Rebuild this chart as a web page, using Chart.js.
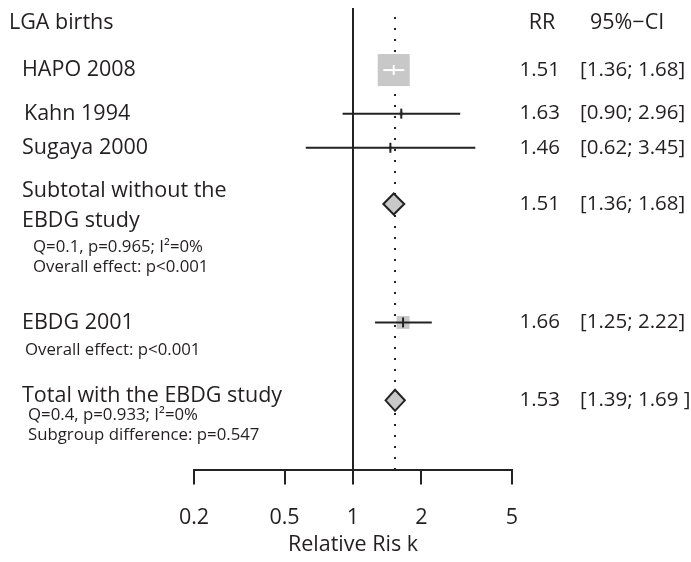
<!DOCTYPE html>
<html><head><meta charset="utf-8">
<script src="https://cdn.jsdelivr.net/npm/chart.js@4.4.1/dist/chart.umd.min.js"></script>
<style>html,body{margin:0;padding:0;background:#fff}#wrap{width:691px;height:562px;position:relative}</style>
</head><body><div id="wrap"><canvas id="c"></canvas></div>
<script>
// ---- data ----
const studyLabels = ['HAPO 2008', 'Kahn 1994', 'Sugaya 2000', 'EBDG 2001'];
const studyRR = [1.51, 1.63, 1.46, 1.66];
const studyLower = [1.36, 0.90, 0.62, 1.25];
const studyUpper = [1.68, 2.96, 3.45, 2.22];
const studyWeight = [84.0, 1.4, 0.9, 13.7];
const studyRRText = ['1.51', '1.63', '1.46', '1.66'];
const studyCIText = ['[1.36; 1.68]', '[0.90; 2.96]', '[0.62; 3.45]', '[1.25; 2.22]'];

const pooledLabels = [['Subtotal without the', 'EBDG study'], ['Total with the EBDG study']];
const pooledRR = [1.51, 1.53];
const pooledLower = [1.36, 1.39];
const pooledUpper = [1.68, 1.69];
const pooledRRText = ['1.51', '1.53'];
const pooledCIText = ['[1.36; 1.68]', '[1.39; 1.69 ]'];
const pooledNotes = [['Q=0.1, p=0.965; I\u00B2=0%', 'Overall effect: p<0.001'],
                     ['Q=0.4, p=0.933; I\u00B2=0%', 'Subgroup difference: p=0.547']];
const ebdgNote = 'Overall effect: p<0.001';
const referenceRR = pooledRR[1];

const xTicks = [0.2, 0.5, 1, 2, 5];
const plotTitle = 'LGA births';
const colHeaders = ['RR', '95%\u2212CI'];
const xTitle = 'Relative Ris k';

// ---- layout (row positions in row units, top = 0) ----
const studyRow = [1.745, 2.97, 3.93, 8.84];
const pooledRow = [5.51, 11.03];
const headerRow = 0.43;

const FONT = '"Open Sans", "Noto Sans", sans-serif';
const BIG = '21.5px ' + FONT;
const COL = '20.5px ' + FONT;
const SMALL = '16.8px ' + FONT;
const TXT = '#231f20';
const GREY = '#c8c8c8';

const forestPlugin = {
  id: 'forest',
  afterDatasetsDraw(chart) {
    const ctx = chart.ctx, xs = chart.scales.x, ys = chart.scales.y, ca = chart.chartArea;
    const X = v => xs.getPixelForValue(v), Y = v => ys.getPixelForValue(v);
    ctx.save();
    // no-effect line
    ctx.strokeStyle = '#222'; ctx.lineWidth = 2;
    ctx.beginPath(); ctx.moveTo(X(1), ca.top); ctx.lineTo(X(1), ca.bottom); ctx.stroke();
    // dotted line at pooled estimate
    ctx.fillStyle = '#222';
    for (let y = ca.top + 9; y < ca.bottom - 2; y += 11) ctx.fillRect(X(referenceRR) - 1, y, 2, 2);
    // studies
    const wmax = Math.max(...studyWeight);
    studyRR.forEach((rr, i) => {
      const cx = X(rr), cy = Y(studyRow[i]);
      const s = 32 * Math.sqrt(studyWeight[i] / wmax);
      const lo = X(studyLower[i]), hi = X(studyUpper[i]);
      ctx.fillStyle = GREY;
      ctx.fillRect(cx - s / 2, cy - s / 2, s, s);
      const inside = lo >= cx - s / 2 && hi <= cx + s / 2;
      ctx.strokeStyle = inside ? '#fff' : '#222';
      ctx.lineWidth = 2;
      ctx.beginPath(); ctx.moveTo(lo, cy); ctx.lineTo(hi, cy); ctx.stroke();
      ctx.beginPath(); ctx.moveTo(cx, cy - 5); ctx.lineTo(cx, cy + 5); ctx.stroke();
    });
    // pooled diamonds
    pooledRR.forEach((rr, i) => {
      const cy = Y(pooledRow[i]);
      ctx.beginPath();
      ctx.moveTo(X(pooledLower[i]), cy);
      ctx.lineTo(X(rr), cy - 10.5);
      ctx.lineTo(X(pooledUpper[i]), cy);
      ctx.lineTo(X(rr), cy + 10.5);
      ctx.closePath();
      ctx.fillStyle = GREY; ctx.fill();
      ctx.strokeStyle = '#222'; ctx.lineWidth = 2; ctx.lineJoin = 'miter'; ctx.stroke();
    });
    // texts
    ctx.fillStyle = TXT; ctx.textBaseline = 'middle';
    ctx.font = BIG; ctx.textAlign = 'left';
    ctx.fillText(plotTitle, 9, Y(headerRow));
    ctx.textAlign = 'center'; ctx.fillText(colHeaders[0], 542, Y(headerRow));
    ctx.textAlign = 'left'; ctx.fillText(colHeaders[1], 590, Y(headerRow));
    const labelX = [22, 24, 22, 22];
    studyLabels.forEach((t, i) => {
      const cy = Y(studyRow[i]);
      ctx.font = BIG; ctx.textAlign = 'left';
      ctx.fillText(t, labelX[i], cy);
      ctx.font = COL;
      ctx.textAlign = 'right'; ctx.fillText(studyRRText[i], 560, cy);
      ctx.textAlign = 'left'; ctx.fillText(studyCIText[i], 580, cy);
    });
    ctx.font = SMALL; ctx.textAlign = 'left';
    ctx.fillText(ebdgNote, 25, Y(studyRow[3]) + 28);
    pooledLabels.forEach((lines, i) => {
      const cy = Y(pooledRow[i]);
      ctx.font = BIG; ctx.textAlign = 'left';
      const y0 = lines.length === 2 ? cy - 13 : cy - 4;
      lines.forEach((ln, k) => ctx.fillText(ln, 22, y0 + k * 30));
      ctx.font = COL;
      ctx.textAlign = 'right'; ctx.fillText(pooledRRText[i], 560, cy);
      ctx.textAlign = 'left'; ctx.fillText(pooledCIText[i], 580, cy);
      ctx.font = SMALL;
      const nx = i === 0 ? 33 : 28;
      const ny = i === 0 ? cy + 43 : cy + 15;
      pooledNotes[i].forEach((n, k) => ctx.fillText(n, nx, ny + k * 20));
    });
    ctx.restore();
  }
};

new Chart(document.getElementById('c'), {
  type: 'scatter',
  data: {
    datasets: [{
      data: studyRR.map((v, i) => ({ x: v, y: studyRow[i] })).concat(pooledRR.map((v, i) => ({ x: v, y: pooledRow[i] }))),
      pointRadius: 0, pointHoverRadius: 0, showLine: false
    }]
  },
  options: {
    responsive: true, maintainAspectRatio: false, animation: false,
    layout: { padding: { left: 194, right: 179, top: 8, bottom: 4 } },
    plugins: { legend: { display: false }, tooltip: { enabled: false } },
    scales: {
      x: {
        type: 'logarithmic', min: 0.2, max: 5,
        afterBuildTicks: s => { s.ticks = xTicks.map(v => ({ value: v })); },
        ticks: { autoSkip: false, maxRotation: 0, padding: 21, color: TXT,
                 font: { family: FONT, size: 21.5 }, callback: v => String(v) },
        grid: { drawOnChartArea: false, drawTicks: true, tickLength: 14, color: '#222', lineWidth: 2 },
        border: { display: true, color: '#222', width: 2 },
        title: { display: true, text: xTitle, color: TXT, font: { family: FONT, size: 21.5 }, padding: { top: -20, bottom: 0 } }
      },
      y: { type: 'linear', min: 0, max: 13, reverse: true, display: false }
    }
  },
  plugins: [forestPlugin]
});
</script>
</body></html>
